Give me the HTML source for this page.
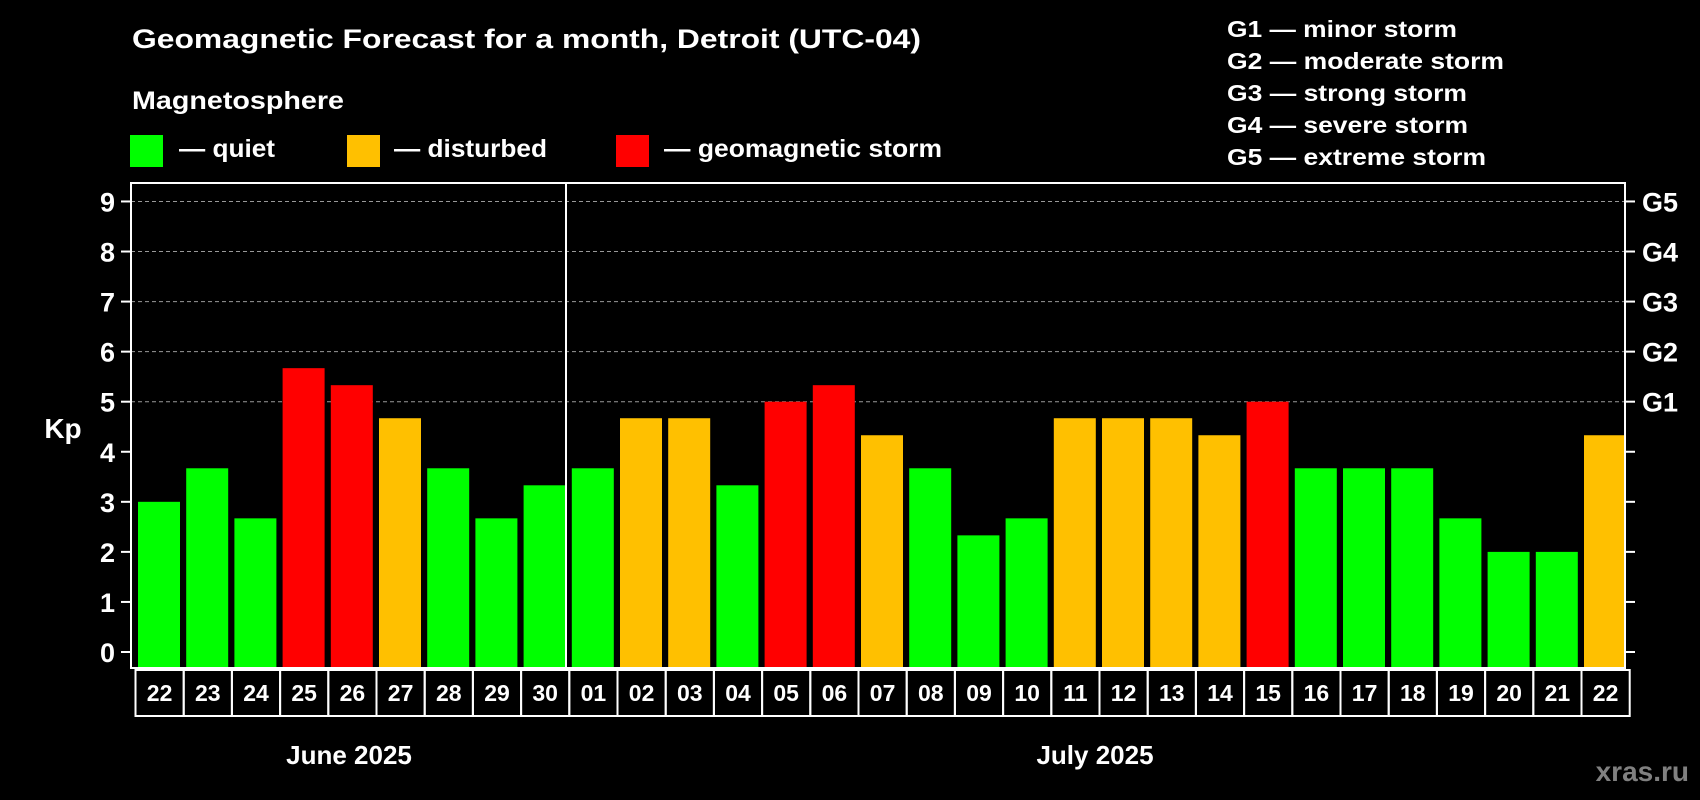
<!DOCTYPE html>
<html><head><meta charset="utf-8"><style>
html,body{margin:0;padding:0;background:#000;}
svg{display:block;font-family:"Liberation Sans",Arial,sans-serif;font-weight:bold;}
</style></head><body>
<svg id="chart" width="1700" height="800" viewBox="0 0 1700 800">
<rect x="0" y="0" width="1700" height="800" fill="#000"/>
<text x="132" y="48" font-size="27" fill="#fff" textLength="789" lengthAdjust="spacingAndGlyphs">Geomagnetic Forecast for a month, Detroit (UTC-04)</text>
<text x="132" y="109" font-size="25" fill="#fff" textLength="212" lengthAdjust="spacingAndGlyphs">Magnetosphere</text>
<g>
<rect x="130" y="135" width="33" height="32" fill="#00ff00"/>
<text x="179" y="157" font-size="25" fill="#fff" textLength="96" lengthAdjust="spacingAndGlyphs">— quiet</text>
</g>
<g>
<rect x="347" y="135" width="33" height="32" fill="#ffc000"/>
<text x="394" y="157" font-size="25" fill="#fff" textLength="153" lengthAdjust="spacingAndGlyphs">— disturbed</text>
</g>
<g>
<rect x="616" y="135" width="33" height="32" fill="#ff0000"/>
<text x="664" y="157" font-size="25" fill="#fff" textLength="278" lengthAdjust="spacingAndGlyphs">— geomagnetic storm</text>
</g>
<g font-size="23" fill="#fff">
<text x="1227" y="37" textLength="230" lengthAdjust="spacingAndGlyphs">G1 — minor storm</text>
<text x="1227" y="69" textLength="277" lengthAdjust="spacingAndGlyphs">G2 — moderate storm</text>
<text x="1227" y="101" textLength="240" lengthAdjust="spacingAndGlyphs">G3 — strong storm</text>
<text x="1227" y="133" textLength="241" lengthAdjust="spacingAndGlyphs">G4 — severe storm</text>
<text x="1227" y="165" textLength="259" lengthAdjust="spacingAndGlyphs">G5 — extreme storm</text>
</g>
<g id="grid"></g>
<g id="bars"></g>
<g id="axes"></g>
<text x="63" y="438" font-size="28" fill="#fff" text-anchor="middle">Kp</text>
<text x="349" y="764" font-size="26" fill="#fff" text-anchor="middle">June 2025</text>
<text x="1095" y="764" font-size="26" fill="#fff" text-anchor="middle">July 2025</text>
<text x="1689" y="781" font-size="28" fill="#808080" text-anchor="end">xras.ru</text>
</svg>
<script>
const days = ["22","23","24","25","26","27","28","29","30","01","02","03","04","05","06","07","08","09","10","11","12","13","14","15","16","17","18","19","20","21","22"];
const kpValues = [3,3.67,2.67,5.67,5.33,4.67,3.67,2.67,3.33,3.67,4.67,4.67,3.33,5,5.33,4.33,3.67,2.33,2.67,4.67,4.67,4.67,4.33,5,3.67,3.67,3.67,2.67,2,2,4.33];
const yTicks = [0,1,2,3,4,5,6,7,8,9];
const gLabels = ["G1","G2","G3","G4","G5"];
const gLevels = [5,6,7,8,9];

const NS = "http://www.w3.org/2000/svg";
const plotL = 131, plotR = 1625, plotT = 183, plotB = 668;
const y0 = 652, unit = 50.06;
const slot0 = 136, pitch = 48.2;
function yScale(v){ return y0 - v*unit; }
function xSlot(i){ return slot0 + i*pitch; }
function mk(tag, attrs, parent){
  const e = document.createElementNS(NS, tag);
  for (const k in attrs) e.setAttribute(k, attrs[k]);
  parent.appendChild(e);
  return e;
}
function color(v){ return v >= 5 ? "#ff0000" : (v >= 4 ? "#ffc000" : "#00ff00"); }

const grid = document.getElementById("grid");
const bars = document.getElementById("bars");
const axes = document.getElementById("axes");

yTicks.forEach(t => {
  if (t >= 5) {
    const g = mk("line", {x1: plotL, x2: plotR, y1: yScale(t), y2: yScale(t), stroke: "#999", "stroke-width": 1, "stroke-dasharray": "4,3"}, grid);
    
    
  }
  const lt = mk("line", {x1: plotL - 10, x2: plotL, y1: yScale(t), y2: yScale(t), stroke: "#fff", "stroke-width": 2}, axes);
  
  
  const rt = mk("line", {x1: plotR, x2: plotR + 10, y1: yScale(t), y2: yScale(t), stroke: "#fff", "stroke-width": 2}, axes);
  
  
  const lb = mk("text", {x: 115, y: yScale(t) + 10, "font-size": 27, fill: "#fff", "text-anchor": "end"}, axes);
  lb.textContent = t;
  
  
});
gLabels.forEach((g, i) => {
  const lb = mk("text", {x: 1642, y: yScale(gLevels[i]) + 10, "font-size": 27, fill: "#fff"}, axes);
  lb.textContent = g;
  
  
});

kpValues.forEach((v, i) => {
  const r = mk("rect", {x: xSlot(i) + 2, y: yScale(v), width: 42, height: plotB - yScale(v), fill: color(v)}, bars);
  
  
  const box = mk("rect", {x: xSlot(i) - 0.5, y: 670, width: pitch, height: 46, fill: "none", stroke: "#fff", "stroke-width": 2}, axes);
  
  
  const t = mk("text", {x: xSlot(i) + pitch/2 - 0.5, y: 701, "font-size": 23, fill: "#fff", "text-anchor": "middle"}, axes);
  t.textContent = days[i];
  
  
});

const frame = mk("rect", {x: plotL, y: plotT, width: plotR - plotL, height: plotB - plotT, fill: "none", stroke: "#fff", "stroke-width": 2}, axes);


const div = mk("line", {x1: 566, x2: 566, y1: plotT, y2: plotB, stroke: "#fff", "stroke-width": 2}, axes);


</script>
</body></html>
